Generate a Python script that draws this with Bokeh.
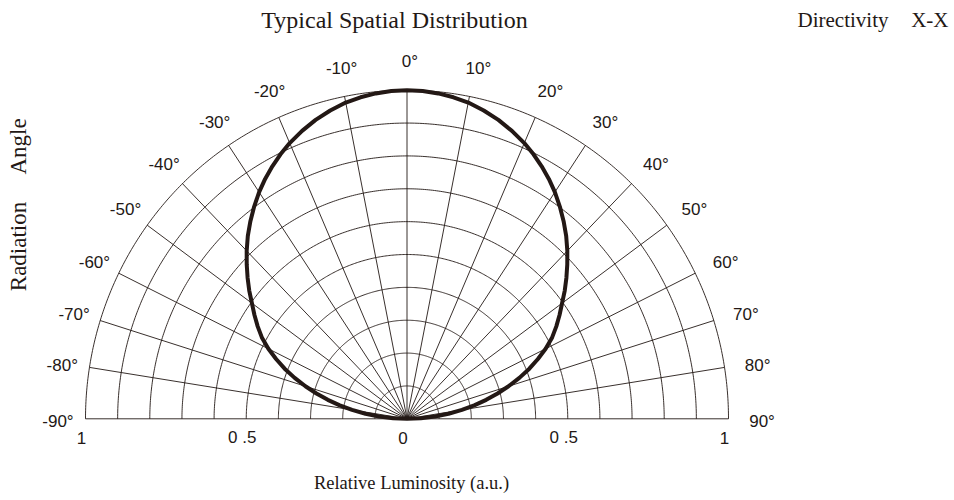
import numpy as np
from bokeh.plotting import figure
from bokeh.models import Range1d, ColumnDataSource, Label
from bokeh.core.properties import value
from bokeh.embed import file_html
from bokeh.resources import INLINE

# ---------------- data ----------------
# labelled radiation angle (deg) and relative luminosity read along it
angle_deg = [-90, -87.5, -85, -82.5, -80, -77.5, -75, -72.5, -70, -67.5, -65, -62.5, -60, -57.5, -55, -52.5,
             -50, -47.5, -45, -42.5, -40, -37.5, -35, -32.5, -30, -27.5, -25, -22.5, -20, -17.5, -15, -12.5,
             -10, -7.5, -5, -2.5, 0, 2.5, 5, 7.5, 10, 12.5, 15, 17.5, 20, 22.5, 25, 27.5, 30, 32.5, 35, 37.5,
             40, 42.5, 45, 47.5, 50, 52.5, 55, 57.5, 60, 62.5, 65, 67.5, 70, 72.5, 75, 77.5, 80, 82.5, 85,
             87.5, 90]
rel_lum = [0.0, 0.043, 0.087, 0.130, 0.173, 0.213, 0.253, 0.292, 0.331, 0.371, 0.410, 0.446, 0.481, 0.515,
           0.543, 0.570, 0.597, 0.627, 0.656, 0.685, 0.714, 0.745, 0.774, 0.802, 0.829, 0.853, 0.875, 0.896,
           0.915, 0.935, 0.953, 0.968, 0.981, 0.989, 0.995, 0.999, 1.0, 0.999, 0.995, 0.989, 0.981, 0.968,
           0.953, 0.935, 0.915, 0.896, 0.875, 0.853, 0.829, 0.802, 0.774, 0.745, 0.714, 0.685, 0.656, 0.627,
           0.597, 0.570, 0.543, 0.515, 0.481, 0.446, 0.410, 0.371, 0.331, 0.292, 0.253, 0.213, 0.173, 0.130,
           0.087, 0.043, 0.0]

ring_values = [0.1, 0.2, 0.3, 0.4, 0.5, 0.6, 0.7, 0.8, 0.9, 1.0]
ray_labels_deg = [-90, -80, -70, -60, -50, -40, -30, -20, -10, 0, 10, 20, 30, 40, 50, 60, 70, 80, 90]
tick_values = [-1.0, -0.5, 0.0, 0.5, 1.0]
tick_labels = ["1", "0 .5", "0", "0 .5", "1"]

# angular scale of the printed chart: labelled angle -> drawn angle
scale_nodes = [0, 10, 20, 30, 40, 50, 60, 70, 80, 90]
scale_drawn = [0, 11.2, 23.5, 33.7, 44.3, 53.9, 63.7, 72.6, 81.0, 90]

INK = "#231815"


def drawn(theta):
    t = np.asarray(theta, dtype=float)
    return np.sign(t) * np.interp(np.abs(t), scale_nodes, scale_drawn)


# ---------------- figure geometry ----------------
W, H = 954, 500
CX, CY = 406.5, 418.3              # origin in canvas px (from top-left)
SX, SY = 321.5, 328.6              # px per unit
x0, x1 = -CX / SX, (W - CX) / SX
y1, y0 = CY / SY, -(H - CY) / SY

p = figure(width=W, height=H, x_range=Range1d(x0, x1), y_range=Range1d(y0, y1),
           output_backend="svg", toolbar_location=None, min_border=0,
           x_axis_location=None, y_axis_location=None)
p.grid.visible = False
p.outline_line_color = None
p.background_fill_color = "white"
p.border_fill_color = "white"

# rings
phi = np.radians(np.linspace(-90, 90, 361))
p.multi_line(xs=[list(r * np.sin(phi)) for r in ring_values],
             ys=[list(r * np.cos(phi)) for r in ring_values],
             line_color=INK, line_width=0.9)

# rays
ray_phi = np.radians(drawn(ray_labels_deg))
p.multi_line(xs=[[0, float(np.sin(a))] for a in ray_phi],
             ys=[[0, float(np.cos(a))] for a in ray_phi],
             line_color=INK, line_width=0.9)

# curve
cphi = np.radians(drawn(angle_deg))
r = np.asarray(rel_lum)
src = ColumnDataSource(dict(x=r * np.sin(cphi), y=r * np.cos(cphi)))
p.line("x", "y", source=src, line_color=INK, line_width=4, line_join="round", line_cap="round")

# angle labels
lab_r = 1.095
lab_src = ColumnDataSource(dict(
    x=lab_r * np.sin(ray_phi), y=lab_r * np.cos(ray_phi),
    t=[f"{a}\u00b0" for a in ray_labels_deg]))
p.text("x", "y", text="t", source=lab_src, text_font=value("Liberation Sans"),
       text_font_size="17px", text_color=INK, text_align="center",
       text_baseline="middle", x_offset=3, y_offset=3)

# luminosity tick labels
tk_src = ColumnDataSource(dict(x=tick_values, y=[0.0] * len(tick_values), t=tick_labels))
p.text("x", "y", text="t", source=tk_src, text_font=value("Liberation Sans"),
       text_font_size="17px", text_color=INK, text_align="center",
       text_baseline="middle", x_offset=-4, y_offset=19)


# titles (screen units, origin bottom-left of canvas)
def sy(py):
    return H - py


serif = "Liberation Serif"
p.add_layout(Label(x=394, y=sy(19.5), x_units="screen", y_units="screen",
                   text="Typical Spatial Distribution", text_font=serif, text_font_size="24px",
                   text_color=INK, text_align="center", text_baseline="alphabetic"))
p.add_layout(Label(x=797, y=sy(19.5), x_units="screen", y_units="screen",
                   text="Directivity", text_font=serif, text_font_size="21px",
                   text_color=INK, text_align="left", text_baseline="alphabetic"))
p.add_layout(Label(x=948, y=sy(19.5), x_units="screen", y_units="screen",
                   text="X-X", text_font=serif, text_font_size="21px",
                   text_color=INK, text_align="right", text_baseline="alphabetic"))
p.add_layout(Label(x=411, y=sy(482), x_units="screen", y_units="screen",
                   text="Relative Luminosity (a.u.)", text_font=serif, text_font_size="18.5px",
                   text_color=INK, text_align="center", text_baseline="alphabetic"))
p.add_layout(Label(x=18, y=sy(246), x_units="screen", y_units="screen",
                   text="Radiation", text_font=serif, text_font_size="23px",
                   text_color=INK, text_align="center", text_baseline="alphabetic",
                   angle=np.pi / 2))
p.add_layout(Label(x=18, y=sy(146), x_units="screen", y_units="screen",
                   text="Angle", text_font=serif, text_font_size="23px",
                   text_color=INK, text_align="center", text_baseline="alphabetic",
                   angle=np.pi / 2))

open("out.html", "w").write(file_html(p, INLINE))
